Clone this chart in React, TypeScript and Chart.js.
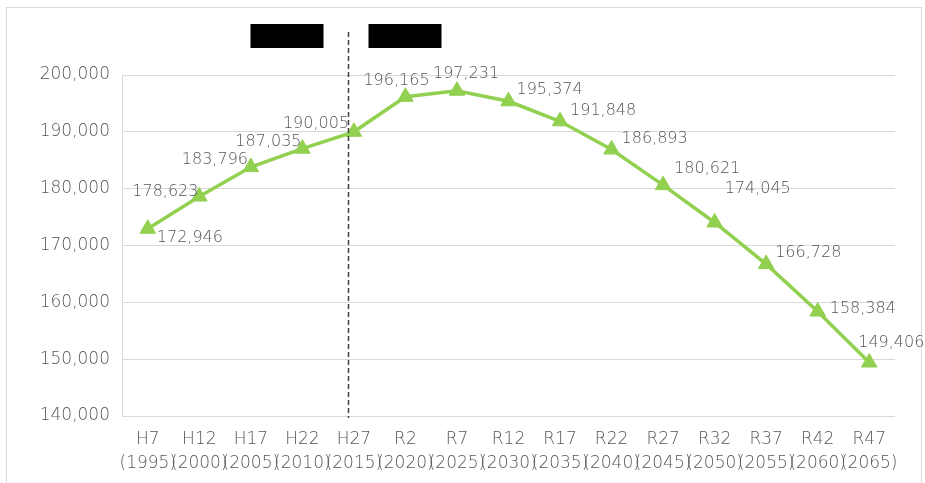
import React, { useEffect, useRef } from "react";
import { Chart, registerables } from "chart.js";

Chart.register(...registerables);

const categories: string[][] = [
  ["H7", "(1995)"], ["H12", "(2000)"], ["H17", "(2005)"], ["H22", "(2010)"], ["H27", "(2015)"],
  ["R2", "(2020)"], ["R7", "(2025)"], ["R12", "(2030)"], ["R17", "(2035)"], ["R22", "(2040)"],
  ["R27", "(2045)"], ["R32", "(2050)"], ["R37", "(2055)"], ["R42", "(2060)"], ["R47", "(2065)"],
];

const population: number[] = [
  172946, 178623, 183796, 187035, 190005, 196165, 197231, 195374, 191848, 186893,
  180621, 174045, 166728, 158384, 149406,
];

const yTicks: number[] = [140000, 150000, 160000, 170000, 180000, 190000, 200000];

// label placement offsets (left edge dx, vertical centre dy) relative to each point
const labelOffsets: [number, number][] = [
  [9, 9], [-67, -5], [-69, -7], [-67, -7], [-71, -8], [-42, -16], [-24, -17],
  [8, -11], [10, -10], [10, -11], [11, -16], [10, -34], [9, -11], [12, -3], [-11, -20],
];

const FONT = "'DejaVu Sans', sans-serif";
const WEIGHT = 200;
const TEXT = "#555555";

const fmt = (v: number) => v.toLocaleString("en-US");

const decorPlugin = {
  id: "decor",
  beforeDraw(chart: any) {
    const ctx = chart.ctx;
    ctx.save();
    ctx.fillStyle = "#ffffff";
    ctx.fillRect(0, 0, chart.width, chart.height);
    ctx.strokeStyle = "#d9d9d9";
    ctx.lineWidth = 1;
    ctx.strokeRect(6.5, 7.5, 915, 490);
    ctx.restore();
  },
  afterDatasetsDraw(chart: any) {
    const ctx = chart.ctx;
    const xs = chart.scales.x;
    const area = chart.chartArea;
    ctx.save();
    const lx = Math.round(xs.getPixelForValue(4) - 6) + 0.5;
    ctx.strokeStyle = "#404040";
    ctx.lineWidth = 1.5;
    ctx.setLineDash([5, 3]);
    ctx.beginPath();
    ctx.moveTo(lx, 32);
    ctx.lineTo(lx, area.bottom + 2);
    ctx.stroke();
    ctx.setLineDash([]);
    ctx.fillStyle = "#000000";
    ctx.fillRect(lx - 98, 24, 73, 24);
    ctx.fillRect(lx + 20, 24, 73, 24);
    const meta = chart.getDatasetMeta(0);
    ctx.font = `${WEIGHT} 16px ${FONT}`;
    ctx.fillStyle = TEXT;
    ctx.textAlign = "left";
    ctx.textBaseline = "middle";
    meta.data.forEach((pt: any, i: number) => {
      const [dx, dy] = labelOffsets[i];
      ctx.fillText(fmt(population[i]), pt.x + dx, pt.y + dy);
    });
    ctx.restore();
  },
};

export default function App() {
  const ref = useRef<HTMLCanvasElement | null>(null);
  useEffect(() => {
    document.body.style.margin = "0";
    const chart = new Chart(ref.current as HTMLCanvasElement, {
      type: "line",
      data: {
        labels: categories,
        datasets: [
          {
            data: population,
            borderColor: "#92D050",
            backgroundColor: "#92D050",
            borderWidth: 3.5,
            pointStyle: "triangle",
            pointRadius: 9,
            pointBorderWidth: 1,
            pointBackgroundColor: "#92D050",
            pointBorderColor: "#92D050",
            tension: 0,
          },
        ],
      },
      options: {
        animation: false,
        responsive: false,
        maintainAspectRatio: false,
        layout: { padding: { left: 0, top: 75, right: 30, bottom: 0 } },
        plugins: { legend: { display: false }, tooltip: { enabled: false } },
        scales: {
          x: {
            offset: true,
            grid: { display: false, drawTicks: false },
            border: { display: false },
            ticks: {
              color: TEXT,
              font: { family: FONT, size: 17, weight: WEIGHT as any, lineHeight: 1.41 },
              padding: 12,
              maxRotation: 0,
              autoSkip: false,
            },
            afterFit: (s: any) => { s.height = 67; },
          },
          y: {
            min: 140000,
            max: 200000,
            afterBuildTicks: (s: any) => { s.ticks = yTicks.map((v) => ({ value: v })); },
            grid: { color: "#d9d9d9", lineWidth: 1, drawTicks: false },
            border: { display: true, color: "#d9d9d9", width: 1 },
            ticks: {
              color: TEXT,
              font: { family: FONT, size: 17, weight: WEIGHT as any },
              padding: 12,
              callback: (v: any) => fmt(Number(v)),
            },
            afterFit: (s: any) => { s.width = 122; },
          },
        },
      },
      plugins: [decorPlugin],
    });
    return () => chart.destroy();
  }, []);
  return (
    <div style={{ width: 925, height: 483 }}>
      <canvas ref={ref} width={925} height={483} style={{ display: "block" }} />
    </div>
  );
}
